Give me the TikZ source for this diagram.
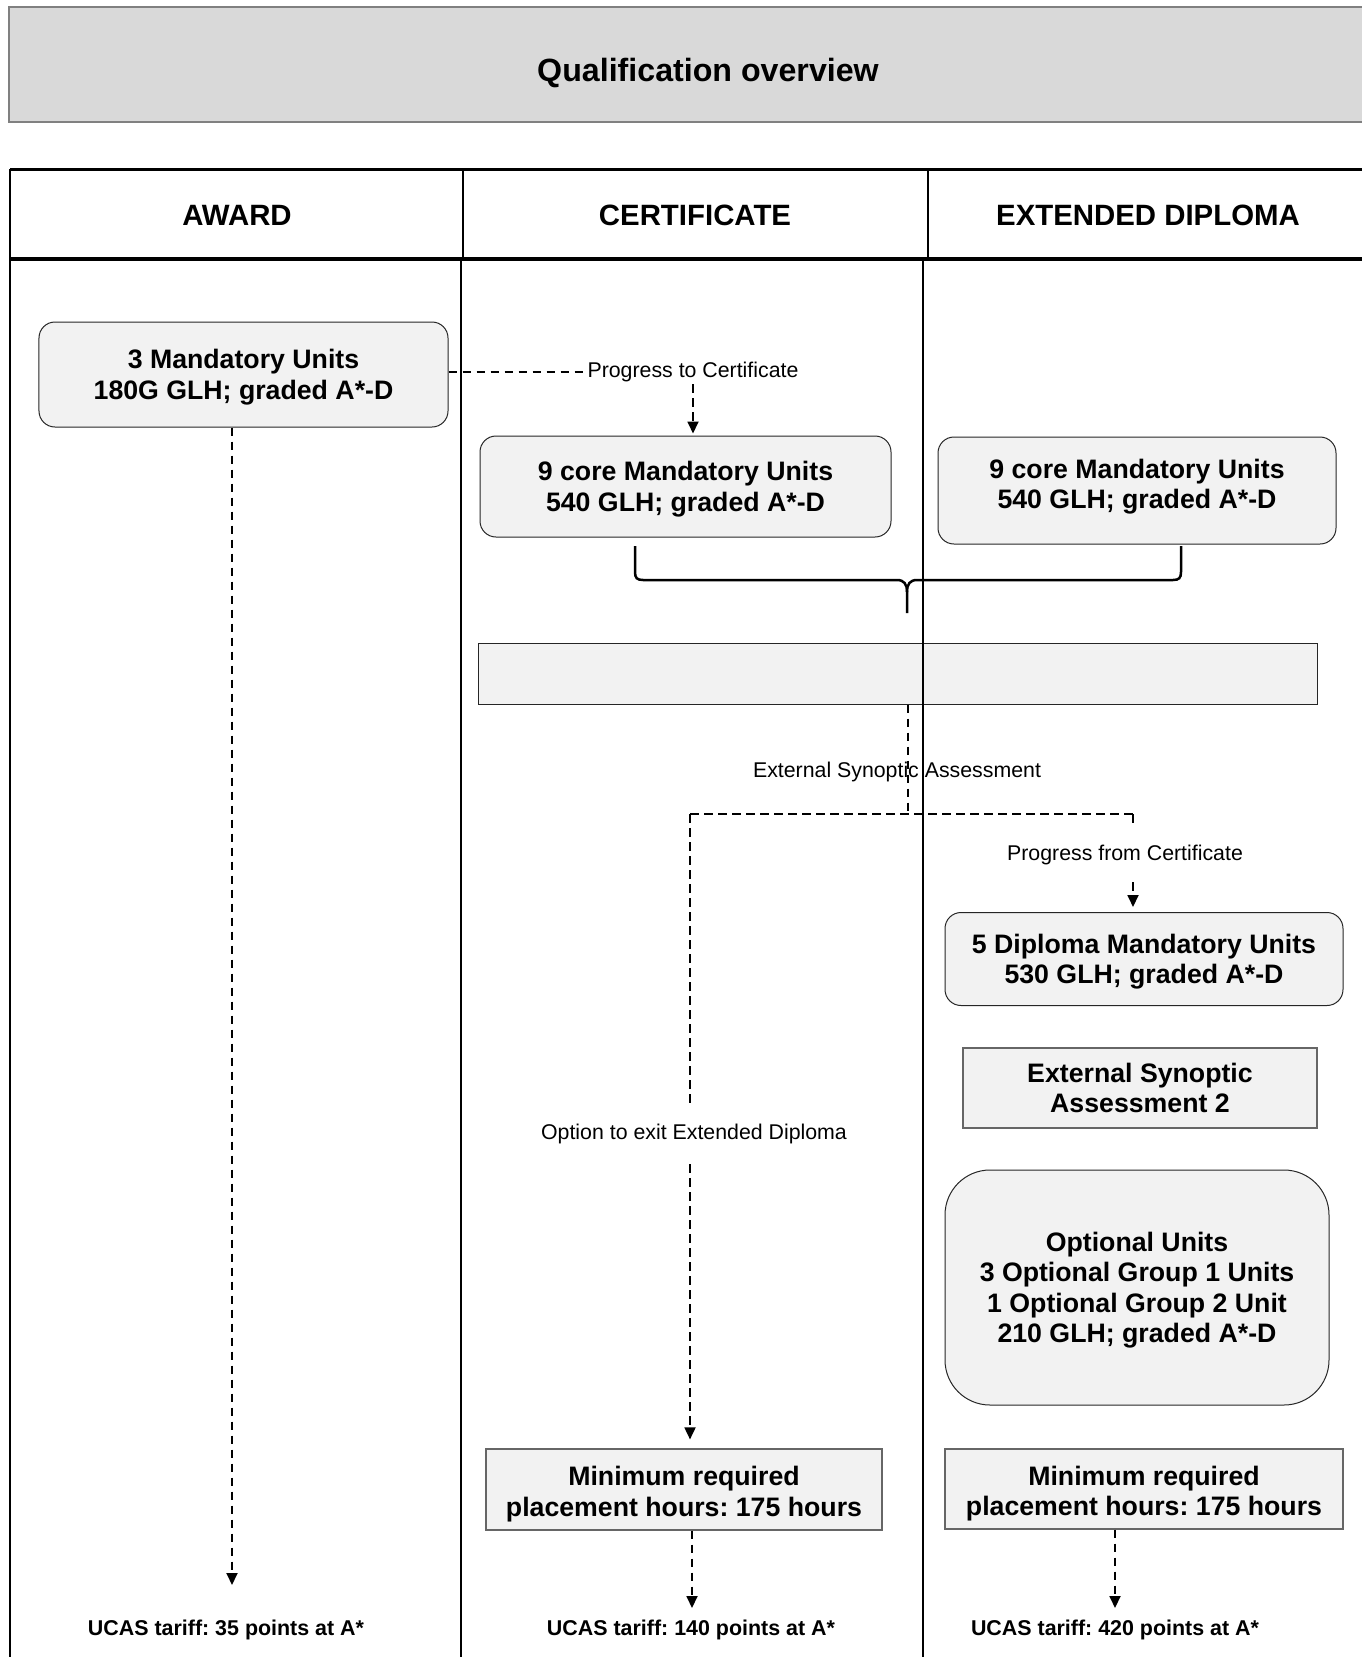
\documentclass[tikz,border=0pt]{standalone}
\usepackage{fontspec}
\setmainfont{Liberation Sans}
\usetikzlibrary{arrows.meta}
\definecolor{boxfill}{HTML}{F2F2F2}
\definecolor{titlefill}{HTML}{D9D9D9}
\definecolor{titleline}{HTML}{808080}
\newcommand\bxs{\rule{0pt}{25.5bp}}
\newcommand\bxe{\rule[-6.5bp]{0pt}{6.5bp}}
\begin{document}
\frenchspacing
\begin{tikzpicture}[x=1bp,y=-1bp,
  boxtxt/.style={font=\fontsize{26.8}{30.5}\selectfont\bfseries, align=center, inner sep=0pt},
  rbox/.style={boxtxt, draw=black!85, fill=boxfill, rounded corners=16bp, line width=1bp},
  sbox/.style={boxtxt, draw=black!60, fill=boxfill, line width=1.2bp},
  lbl/.style={font=\fontsize{21.4}{24}\selectfont, inner sep=2bp},
  ucas/.style={font=\fontsize{21.5}{24}\selectfont\bfseries, inner sep=0pt},
  hdr/.style={font=\fontsize{29.5}{34}\selectfont\bfseries},
  dline/.style={dash pattern=on 8.5bp off 5.5bp, line width=1.8bp},
  darrow/.style={dline, -{Triangle[length=12bp,width=11bp]}}
]
\useasboundingbox (0,0) rectangle (1362,1657);
% title
\fill[titlefill] (9,7) rectangle (1375,122);
\draw[titleline, line width=1.5bp] (1375,7) -- (9,7) -- (9,122) -- (1375,122);
\node[font=\fontsize{32.3}{38}\selectfont\bfseries] (title) at (708,73) {Qualification overview};

% header texts
\node[hdr] (hA) at (237,215) {AWARD};
\node[hdr] (hB) at (695,215) {CERTIFICATE};
\node[hdr] (hC) at (1148,215) {EXTENDED DIPLOMA};

% boxes
\node[rbox, minimum width=409bp, minimum height=105bp] (A) at (243.5,374.5) {\bxs 3 Mandatory Units\\180G GLH; graded A*-D\bxe};
\node[rbox, minimum width=411bp, minimum height=101bp] (B) at (685.5,486.5) {\bxs 9 core Mandatory Units\\540 GLH; graded A*-D\bxe};
\node[rbox, minimum width=398bp, minimum height=107bp] (C) at (1137,490.5) {\bxs 9 core Mandatory Units\\540 GLH; graded A*-D\rule[-19bp]{0pt}{19bp}};
\node[sbox, draw=black!85, line width=1bp, minimum width=839bp, minimum height=61bp] (W) at (897.5,673.5) {};
\node[rbox, minimum width=398bp, minimum height=93bp] (D) at (1144,959) {\bxs 5 Diploma Mandatory Units\\530 GLH; graded A*-D\bxe};
\node[sbox, minimum width=354bp, minimum height=80bp] (E) at (1140,1088) {\bxs External Synoptic\\Assessment 2\bxe};
\node[rbox, rounded corners=45bp, minimum width=384bp, minimum height=235bp] (F) at (1137,1287.5) {\bxs Optional Units\\3 Optional Group 1 Units\\1 Optional Group 2 Unit\\210 GLH; graded A*-D\bxe};
\node[sbox, minimum width=396bp, minimum height=81bp] (MinL) at (684,1489.5) {\rule{0pt}{29.5bp}Minimum required\\placement hours: 175 hours\bxe};
\node[sbox, minimum width=398bp, minimum height=80bp] (MinR) at (1144,1489) {\rule{0pt}{29.5bp}Minimum required\\placement hours: 175 hours\bxe};

% labels
\node[lbl] (lblA) at (693,372) {Progress to Certificate};
\node[lbl] (lblE) at (897,772) {External Synoptic Assessment};
\node[lbl, inner ysep=17bp] (lblB) at (1125,855) {Progress from Certificate};
\node[ucas] (ucasA) at (226,1630) {UCAS tariff: 35 points at A*};
\node[ucas] (ucasB) at (691,1630) {UCAS tariff: 140 points at A*};
\node[ucas] (ucasC) at (1115,1630) {UCAS tariff: 420 points at A*};

% coordinates
\coordinate (tip) at (907,613);
\coordinate (split) at (908,814);
\coordinate (lc) at (690,814);
\coordinate (rc) at (1133,814);
\coordinate (endA) at (232,1585);
\coordinate (endB) at (692,1608);
\coordinate (endC) at (1115,1608);

% brace
\draw[line width=2.5bp] (635,546) -- (635,572) .. controls (635,578) and (637,580) .. (643,580)
  -- (897,580) .. controls (904,580) and (907,584) .. (907,592) -- (tip);
\draw[line width=2.5bp] (907,592) .. controls (907,584) and (910,580) .. (917,580)
  -- (1173,580) .. controls (1179,580) and (1181,578) .. (1181,572) -- (1181,546);

% connectors
\draw[dline] (A.east |- lblA) -- (lblA.west);
\draw[darrow, shorten >=2bp] (lblA.south) -- (lblA.south |- B.north);
\draw[dline] (W.south -| split) -- (split);
\draw[dline] (lc) -- (rc);
\draw[darrow, shorten >=9bp] (lc) -- (lc |- MinL.north);
\draw[dline] (rc) -- (rc |- lblB.north);
\draw[darrow, shorten >=5bp] (rc |- lblB.south) -- (rc |- D.north);
\draw[darrow] (A.south -| endA) -- (endA);
\draw[darrow] (MinL.south -| endB) -- (endB);
\draw[darrow] (MinR.south -| endC) -- (endC);
\node[lbl, fill=white, inner xsep=4bp, inner ysep=16bp] (lblX) at (694,1134) {Option to exit Extended Diploma};

% table lines
\draw[line width=3bp] (10,169) -- (1375,169);
\draw[line width=4.5bp] (10,259) -- (1375,259);
\draw[line width=2.5bp] (10,169) -- (10,1660);
\draw[line width=2.5bp] (463,169) -- (463,259);
\draw[line width=2.5bp] (928,169) -- (928,259);
\draw[line width=2bp] (461,259) -- (461,1660);
\draw[line width=1.5bp] (923,259) -- (923,1660);
\end{tikzpicture}
\end{document}
